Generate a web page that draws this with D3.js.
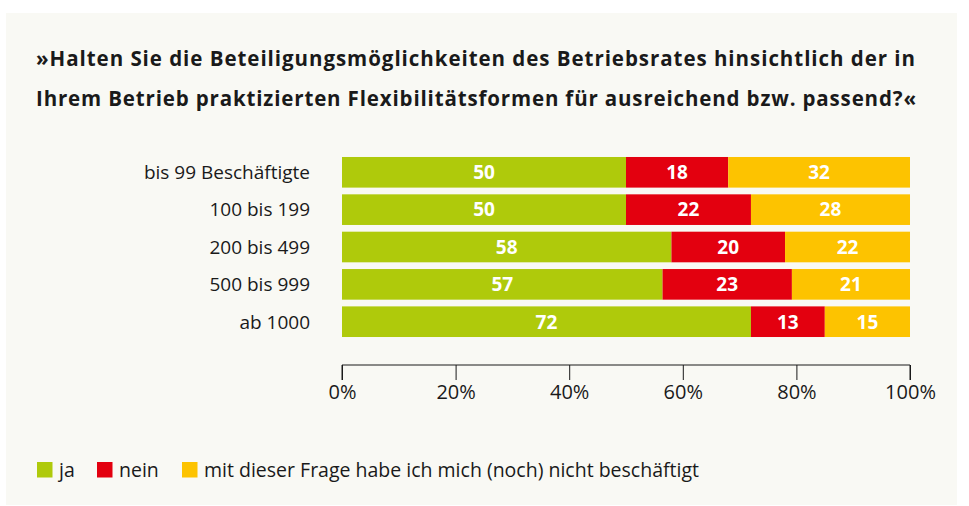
<!DOCTYPE html>
<html lang="de">
<head>
<meta charset="utf-8">
<title>Beteiligungsmöglichkeiten des Betriebsrates</title>
<script src="https://cdn.jsdelivr.net/npm/d3@7"></script>
<style>
  body { margin: 0; background: #ffffff; }
  svg { display: block; font-family: "Open Sans", "Noto Sans", sans-serif; }
</style>
</head>
<body>
<script>
// data
var categories = ["bis 99 Beschäftigte", "100 bis 199", "200 bis 499", "500 bis 999", "ab 1000"];
var ja   = [50, 50, 58, 57, 72];
var nein = [18, 22, 20, 23, 13];
var nicht = [32, 28, 22, 21, 15];
var seriesNames = ["ja", "nein", "mit dieser Frage habe ich mich (noch) nicht beschäftigt"];
var colors = ["#afca0b", "#e3000f", "#fdc300"];
var tickValues = [0, 20, 40, 60, 80, 100];

var w = 969, h = 506;
var svg = d3.select("body").append("svg").attr("width", w).attr("height", h);

// panel background
svg.append("rect").attr("x", 6).attr("y", 13).attr("width", 951).attr("height", 492)
   .attr("fill", "#f9f9f4");

// title (reference font runs wider, so stretch to its width)
var title = svg.append("text").attr("font-size", 20.5).attr("font-weight", "bold")
   .attr("fill", "#1a1a1a");
title.append("tspan").attr("x", 36).attr("y", 66).attr("textLength", 879)
   .text("»Halten Sie die Beteiligungsmöglichkeiten des Betriebsrates hinsichtlich der in");
title.append("tspan").attr("x", 36).attr("y", 106).attr("textLength", 880)
   .text("Ihrem Betrieb praktizierten Flexibilitätsformen für ausreichend bzw. passend?«");

var table = categories.map(function(c, i) {
  return { cat: c, ja: ja[i], nein: nein[i], nicht: nicht[i] };
});
// rounded values can add up to 101, so the bars are normalised to 100 %
var stack = d3.stack().keys(["ja", "nein", "nicht"]).offset(d3.stackOffsetExpand)(table);

var xScale = d3.scaleLinear().domain([0, 100]).range([342, 910]);
var yScale = d3.scaleBand().domain(categories).range([154, 340]).paddingInner(0.18).paddingOuter(0.08);

var layers = svg.selectAll(".layer").data(stack).enter().append("g")
   .attr("class", "layer").attr("fill", function(d, i) { return colors[i]; });

layers.selectAll("rect").data(function(d) { return d.map(function(p) { p.key = d.key; return p; }); })
   .enter().append("rect")
   .attr("x", function(d) { return xScale(d[0] * 100); })
   .attr("y", function(d) { return yScale(d.data.cat); })
   .attr("width", function(d) { return xScale(d[1] * 100) - xScale(d[0] * 100); })
   .attr("height", yScale.bandwidth());

layers.selectAll("text").data(function(d) { return d; }).enter().append("text")
   .attr("x", function(d) { return (xScale(d[0] * 100) + xScale(d[1] * 100)) / 2; })
   .attr("y", function(d) { return yScale(d.data.cat) + yScale.bandwidth() / 2; })
   .attr("dy", "0.36em")
   .attr("text-anchor", "middle").attr("fill", "#ffffff")
   .attr("font-size", 19).attr("font-weight", "bold")
   .text(function(d) { return d.data[d.key]; });

// category labels
svg.selectAll(".cat").data(categories).enter().append("text")
   .attr("class", "cat")
   .attr("x", 310)
   .attr("y", function(d) { return yScale(d) + yScale.bandwidth() / 2; })
   .attr("dy", "0.36em").attr("text-anchor", "end")
   .attr("font-size", 19).attr("fill", "#1a1a1a")
   .text(function(d) { return d; });

// x axis
var xAxis = d3.axisBottom(xScale).tickValues(tickValues).tickSize(15).tickPadding(5)
   .tickFormat(function(d) { return d + "%"; });
var gx = svg.append("g").attr("transform", "translate(0,365)").call(xAxis);
gx.select(".domain").attr("d", "M" + xScale(0) + ",15V0H" + xScale(100) + "V15")
   .attr("stroke", "#1a1a1a");
gx.selectAll(".tick line").attr("stroke", "#1a1a1a");
gx.selectAll(".tick text").attr("font-size", 20).attr("fill", "#1a1a1a")
   .attr("font-family", "'Open Sans', 'Noto Sans', sans-serif");

// legend
var legX = [37, 97, 182];
var leg = svg.selectAll(".leg").data(seriesNames).enter().append("g")
   .attr("class", "leg")
   .attr("transform", function(d, i) { return "translate(" + legX[i] + ",462)"; });
leg.append("rect").attr("width", 15.5).attr("height", 15.5)
   .attr("fill", function(d, i) { return colors[i]; });
leg.append("text").attr("x", 22).attr("y", 15).attr("font-size", 19.5).attr("fill", "#1a1a1a")
   .text(function(d) { return d; });
</script>
</body>
</html>
